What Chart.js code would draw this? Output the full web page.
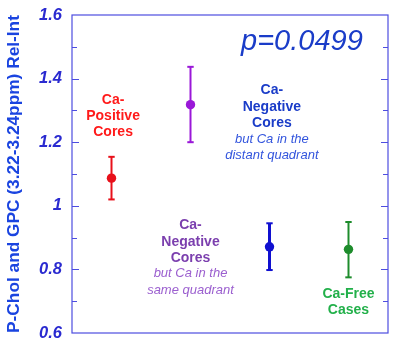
<!DOCTYPE html>
<html>
<head>
<meta charset="utf-8">
<script src="https://cdn.jsdelivr.net/npm/chart.js@4"></script>
<style>
  html, body { margin: 0; padding: 0; background: #fff; }
  #wrap { width: 400px; height: 344px; }
</style>
</head>
<body>
<div id="wrap"><canvas id="chart"></canvas></div>
<script>
// データ
const groups = ['Ca-Positive Cores', 'Ca-Negative (same quadrant)', 'Ca-Negative (distant quadrant)', 'Ca-Free Cases'];
const groupX = [1, 2, 3, 4];
const means = [1.087, 1.318, 0.871, 0.863];
const upper = [1.154, 1.437, 0.945, 0.949];
const lower = [1.020, 1.200, 0.798, 0.775];
const barColors = ['#e8101a', '#9a18d8', '#1010d0', '#1e8c2c'];
const barWidths = [2, 2, 3, 2];

// 注釈テキスト (データ座標)
const notes = [
    { x: 1.02, y: 1.333, text: 'Ca-', color: '#ff1a1a', font: 'bold 14px "Liberation Sans"' },
    { x: 1.02, y: 1.282, text: 'Positive', color: '#ff1a1a', font: 'bold 14px "Liberation Sans"' },
    { x: 1.02, y: 1.232, text: 'Cores', color: '#ff1a1a', font: 'bold 14px "Liberation Sans"' },
    { x: 3.03, y: 1.364, text: 'Ca-', color: '#1a3cc8', font: 'bold 14px "Liberation Sans"' },
    { x: 3.03, y: 1.311, text: 'Negative', color: '#1a3cc8', font: 'bold 14px "Liberation Sans"' },
    { x: 3.03, y: 1.260, text: 'Cores', color: '#1a3cc8', font: 'bold 14px "Liberation Sans"' },
    { x: 3.03, y: 1.210, text: 'but Ca in the', color: '#3355dd', font: 'italic 13px "Liberation Sans"' },
    { x: 3.03, y: 1.157, text: 'distant quadrant', color: '#3355dd', font: 'italic 13px "Liberation Sans"' },
    { x: 2.0, y: 0.940, text: 'Ca-', color: '#7b3fae', font: 'bold 14px "Liberation Sans"' },
    { x: 2.0, y: 0.886, text: 'Negative', color: '#7b3fae', font: 'bold 14px "Liberation Sans"' },
    { x: 2.0, y: 0.836, text: 'Cores', color: '#7b3fae', font: 'bold 14px "Liberation Sans"' },
    { x: 2.0, y: 0.786, text: 'but Ca in the', color: '#9b5fcf', font: 'italic 13px "Liberation Sans"' },
    { x: 2.0, y: 0.735, text: 'same quadrant', color: '#9b5fcf', font: 'italic 13px "Liberation Sans"' },
    { x: 4.0, y: 0.723, text: 'Ca-Free', color: '#22b04a', font: 'bold 14px "Liberation Sans"' },
    { x: 4.0, y: 0.672, text: 'Cases', color: '#22b04a', font: 'bold 14px "Liberation Sans"' },
    { x: 3.41, y: 1.515, text: 'p=0.0499', color: '#1a3cc8', font: 'italic 29px "Liberation Sans"' }
];

const frameColor = '#4d4de0';

// エラーバー
let datasets = [];
for (let i = 0; i < groups.length; i++) {
    datasets.push({
        label: groups[i] + ' SE',
        data: [{ x: groupX[i], y: lower[i] }, { x: groupX[i], y: upper[i] }],
        showLine: true,
        borderColor: barColors[i],
        borderWidth: barWidths[i],
        pointStyle: 'line',
        pointRadius: 3.2,
        pointBorderWidth: 2,
        pointBorderColor: barColors[i],
        order: 2
    });
}
// 平均値
datasets.push({
    label: 'mean',
    data: groupX.map((x, i) => ({ x: x, y: means[i] })),
    showLine: false,
    pointStyle: 'circle',
    pointRadius: 4.7,
    pointBackgroundColor: barColors,
    pointBorderColor: barColors,
    pointBorderWidth: 0,
    order: 1
});

// 枠と内向きの目盛り
const framePlugin = {
    id: 'frame',
    afterDatasetsDraw(chart) {
        const ctx = chart.ctx;
        const a = chart.chartArea;
        const ys = chart.scales.y;
        ctx.save();
        ctx.strokeStyle = frameColor;
        ctx.lineWidth = 1.2;
        ctx.strokeRect(a.left, a.top, a.right - a.left, a.bottom - a.top);
        for (let k = 1; k < 10; k++) {
            const v = 0.6 + k * 0.1;
            const py = Math.round(ys.getPixelForValue(v)) + 0.5;
            const len = (k % 2 == 0) ? 7 : 5;
            ctx.beginPath();
            ctx.moveTo(a.left, py);
            ctx.lineTo(a.left + len, py);
            ctx.moveTo(a.right, py);
            ctx.lineTo(a.right - len, py);
            ctx.stroke();
        }
        ctx.restore();
    }
};

const notesPlugin = {
    id: 'notes',
    afterDraw(chart) {
        const ctx = chart.ctx;
        const xs = chart.scales.x;
        const ys = chart.scales.y;
        ctx.save();
        ctx.textAlign = 'center';
        ctx.textBaseline = 'middle';
        for (let n of notes) {
            ctx.font = n.font;
            ctx.fillStyle = n.color;
            ctx.fillText(n.text, xs.getPixelForValue(n.x), ys.getPixelForValue(n.y));
        }
        ctx.restore();
    }
};

new Chart(document.getElementById('chart'), {
    type: 'scatter',
    data: { datasets: datasets },
    options: {
        responsive: true,
        maintainAspectRatio: false,
        animation: false,
        layout: { padding: { top: 15, right: 12, bottom: 11, left: 0 } },
        plugins: {
            legend: { display: false },
            tooltip: { enabled: false }
        },
        scales: {
            x: {
                type: 'linear',
                min: 0.5,
                max: 4.5,
                display: false
            },
            y: {
                type: 'linear',
                min: 0.6,
                max: 1.6,
                grid: { display: true, drawOnChartArea: false, drawTicks: true, tickLength: 10, color: 'rgba(0,0,0,0)' },
                border: { display: false },
                ticks: {
                    stepSize: 0.2,
                    padding: 0,
                    color: '#2a2ad0',
                    font: { family: '"Liberation Sans"', size: 16.5, weight: 'bold', style: 'italic' },
                    callback: (v) => String(Number(v.toFixed(1)))
                },
                title: {
                    display: true,
                    text: 'P-Chol and GPC (3.22-3.24ppm) Rel-Int',
                    color: '#1a44e0',
                    padding: { top: 4, bottom: 0 },
                    font: { family: '"Liberation Sans"', size: 17.3, weight: 'bold' }
                },
                afterFit(scale) { scale.width = 72; }
            }
        }
    },
    plugins: [framePlugin, notesPlugin]
});
</script>
</body>
</html>
